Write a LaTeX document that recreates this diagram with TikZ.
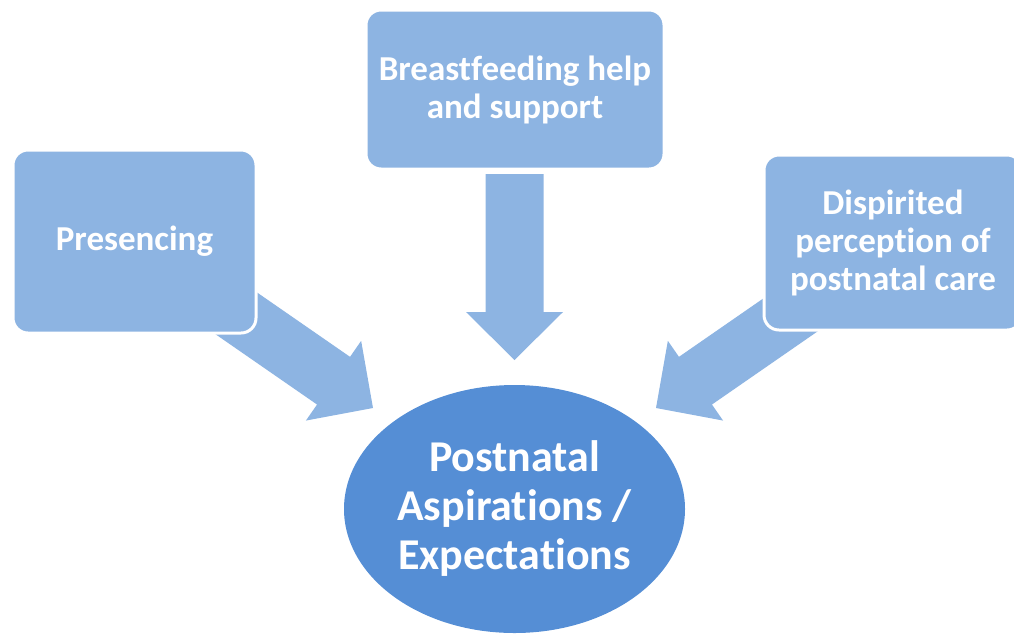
\documentclass[tikz,border=0pt]{standalone}
\usepackage{fontspec}
\setmainfont[Ligatures=NoCommon]{Carlito}
\usetikzlibrary{calc,shapes.geometric}

\definecolor{cajaazul}{HTML}{8DB4E2}
\definecolor{elipseazul}{HTML}{558ED5}

\tikzset{
  caja/.style={draw=white, line width=3pt, fill=cajaazul, rounded corners=15pt,
    text=white, align=center, inner sep=0pt,
    font=\bfseries\fontsize{35}{38}\selectfont},
  meta/.style={ellipse, fill=elipseazul, text=white, align=center, inner sep=0pt,
    minimum width=341pt, minimum height=248pt,
    font=\bfseries\fontsize{44}{49}\selectfont},
}

% flecha gruesa: #1 cola, #2 punta
\newcommand{\flechagorda}[2]{%
  \coordinate (base) at ($(#2)!48pt!(#1)$);
  \fill[cajaazul] ($(#1)!29pt!90:(#2)$) -- ($(base)!29pt!90:(#2)$)
    -- ($(base)!48.5pt!90:(#2)$) -- (#2) -- ($(base)!48.5pt!-90:(#2)$)
    -- ($(base)!29pt!-90:(#2)$) -- ($(#1)!29pt!-90:(#2)$) -- cycle;
}

\begin{document}
\begin{tikzpicture}[x=1pt, y=-1pt]
    \path[use as bounding box, clip] (0,0) rectangle (1014,633);

    % Extremos de las flechas
    \coordinate (pres-cola) at (217,300);
    \coordinate (pres-punta) at (373,408);
    \coordinate (lact-cola) at (514.5,174);
    \coordinate (lact-punta) at (514.5,360);
    \coordinate (desan-cola) at (812,300);
    \coordinate (desan-punta) at (656,408);

    % Flechas
    \flechagorda{pres-cola}{pres-punta}
    \flechagorda{lact-cola}{lact-punta}
    \flechagorda{desan-cola}{desan-punta}

    % Cajas
    \node[caja, minimum width=243pt, minimum height=183pt] (presencia) at (134.5,241.5) {Presencing};
    \node[caja, minimum width=298pt, minimum height=159pt] (lactancia) at (515,89.5) {Breastfeeding help\\and support};
    \node[caja, minimum width=258pt, minimum height=175pt] (desanimo) at (893,242.5) {Dispirited\\perception of\\postnatal care};

    % Elipse central
    \node[meta] (meta) at (514.5,509) {Postnatal\\Aspirations /\\Expectations};
\end{tikzpicture}
\end{document}
